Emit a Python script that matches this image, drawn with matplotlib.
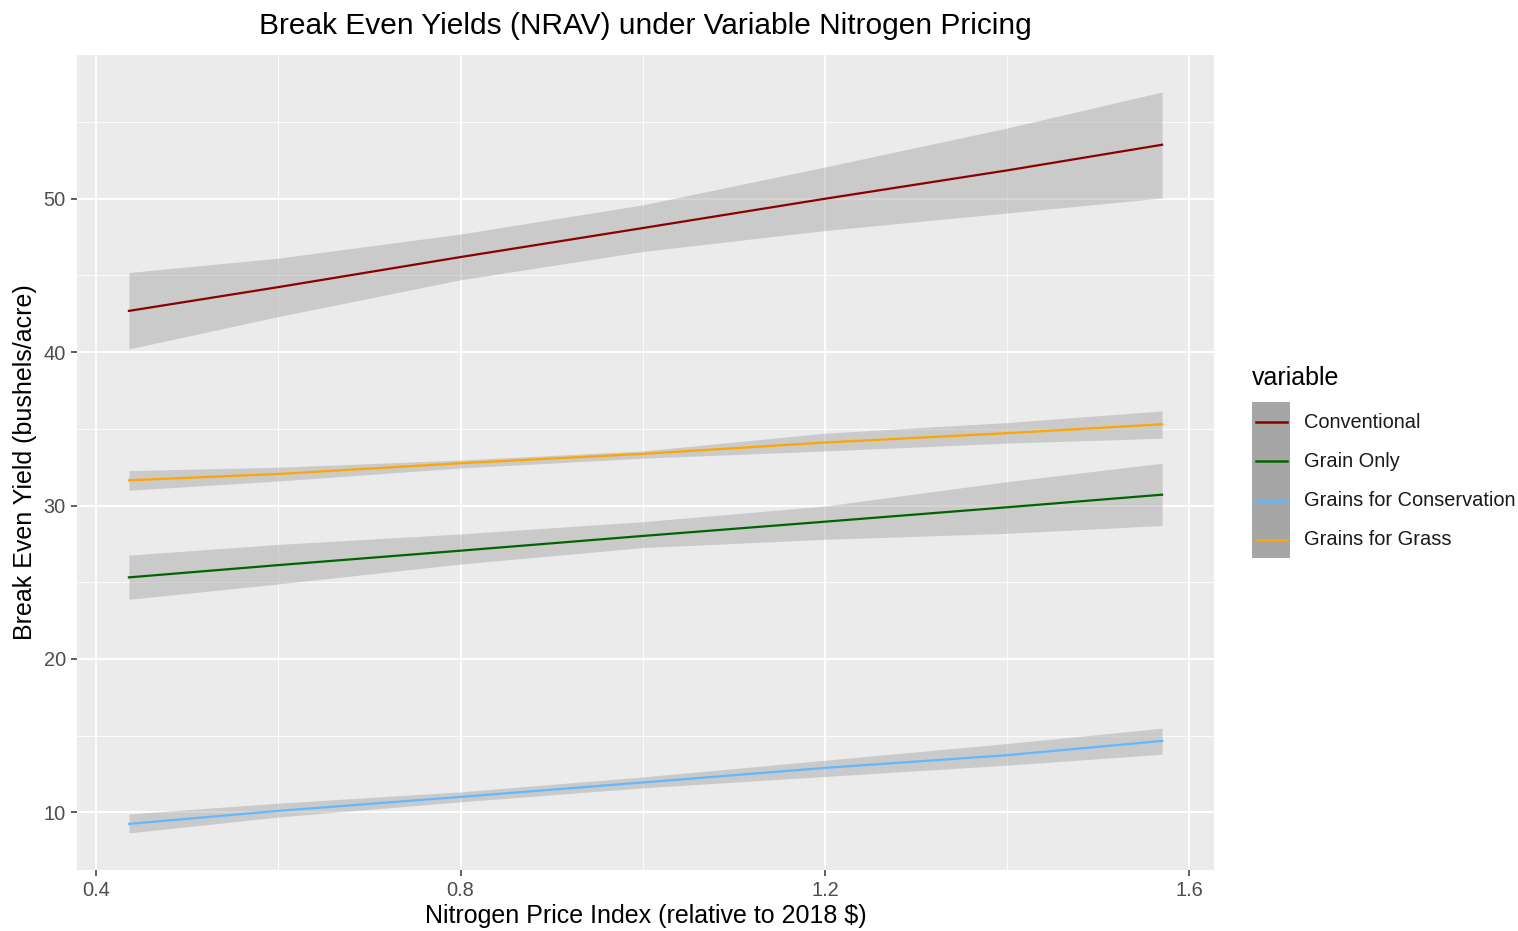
import matplotlib
matplotlib.use("Agg")
import matplotlib.pyplot as plt
from matplotlib.patches import Rectangle
from matplotlib.lines import Line2D

plt.rcParams['font.family'] = ['Liberation Sans', 'DejaVu Sans']

price_idx = [0.436, 0.6, 0.8, 1.0, 1.2, 1.4, 1.570]

conv_fit = [42.69, 44.24, 46.20, 48.09, 50.00, 51.85, 53.52]
conv_hi = [45.19, 46.13, 47.70, 49.60, 52.07, 54.61, 56.96]
conv_lo = [40.21, 42.32, 44.72, 46.56, 47.93, 49.07, 50.05]

grain_fit = [25.32, 26.12, 27.06, 28.02, 28.95, 29.89, 30.71]
grain_hi = [26.77, 27.47, 28.15, 28.95, 29.97, 31.56, 32.76]
grain_lo = [23.89, 24.89, 26.19, 27.26, 27.80, 28.19, 28.70]

cons_fit = [9.25, 10.10, 11.01, 11.95, 12.90, 13.73, 14.66]
cons_hi = [9.90, 10.60, 11.34, 12.31, 13.40, 14.49, 15.49]
cons_lo = [8.66, 9.70, 10.69, 11.60, 12.34, 13.08, 13.79]

grass_fit = [31.65, 32.06, 32.76, 33.37, 34.11, 34.72, 35.30]
grass_hi = [32.28, 32.50, 32.97, 33.56, 34.72, 35.41, 36.17]
grass_lo = [31.00, 31.60, 32.45, 33.09, 33.56, 34.07, 34.39]

labels = ['Conventional', 'Grain Only', 'Grains for Conservation', 'Grains for Grass']
colors = ['#8B0000', '#006400', '#63B8FF', '#FFA500']
fits = [conv_fit, grain_fit, cons_fit, grass_fit]
his = [conv_hi, grain_hi, cons_hi, grass_hi]
los = [conv_lo, grain_lo, cons_lo, grass_lo]

W, H = 1518, 931
fig = plt.figure(figsize=(W / 100, H / 100), dpi=100)
fig.patch.set_facecolor('white')
ax = fig.add_axes([77 / W, (H - 870) / H, (1214 - 77) / W, (870 - 55) / H])
ax.set_facecolor('#EBEBEB')

for fit, hi, lo, c in zip(fits, his, los, colors):
    ax.fill_between(price_idx, lo, hi, color='#999999', alpha=0.4, lw=0, zorder=2)
    ax.plot(price_idx, fit, color=c, lw=1.6, zorder=3)

ax.set_xlim(0.379, 1.627)
ax.set_ylim(6.245, 59.37)
ax.set_xticks([0.4, 0.8, 1.2, 1.6])
ax.set_xticklabels(['0.4', '0.8', '1.2', '1.6'])
ax.set_xticks([0.6, 1.0, 1.4], minor=True)
ax.set_yticks([10, 20, 30, 40, 50])
ax.set_yticks([15, 25, 35, 45, 55], minor=True)
ax.grid(which='major', color='white', lw=1.3, zorder=1)
ax.grid(which='minor', color='white', lw=0.6, zorder=1)
ax.set_axisbelow(True)
for s in ax.spines.values():
    s.set_visible(False)
ax.tick_params(which='major', length=4, color='#333333', labelsize=14.4,
               labelcolor='#4D4D4D', width=1.1, pad=4)
ax.tick_params(which='minor', length=0)

fig.text(645.5 / W, 1 - 916 / H, 'Nitrogen Price Index (relative to 2018 $)',
         fontsize=18, ha='center', va='center')
fig.text(25 / W, 1 - 462 / H, 'Break Even Yield (bushels/acre)', fontsize=18,
         ha='center', va='center', rotation=90)
fig.text(645.5 / W, 1 - 26 / H, 'Break Even Yields (NRAV) under Variable Nitrogen Pricing',
         fontsize=21.5, ha='center', va='center')

# legend drawn by hand, ggplot style
fig.text(1252 / W, 1 - 378 / H, 'variable', fontsize=18, va='center', ha='left')
fig.patches.append(Rectangle((1252 / W, 1 - 558 / H), 38 / W, 156 / H,
                             transform=fig.transFigure, facecolor='#A6A6A6',
                             edgecolor='none'))
for i, (lab, c) in enumerate(zip(labels, colors)):
    yy = 1 - (422 + i * 39.3) / H
    fig.lines.append(Line2D([1256 / W, 1287 / W], [yy, yy], transform=fig.transFigure,
                            color=c, lw=1.8))
    fig.text(1304 / W, yy, lab, fontsize=14.4, va='center', ha='left', color='#1A1A1A')

fig.savefig('out.png', dpi=100)
